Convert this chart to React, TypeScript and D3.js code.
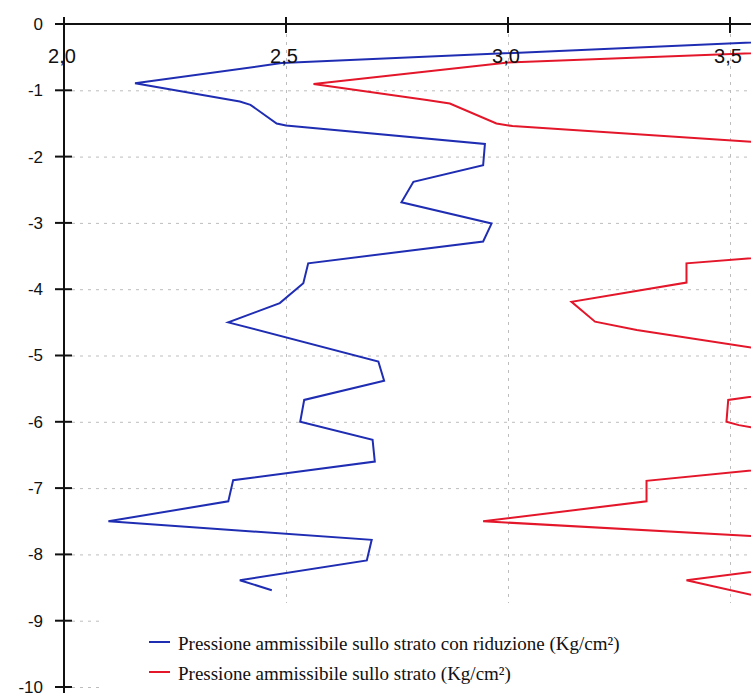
import { useEffect, useRef } from 'react';
import * as d3 from 'd3';

// profondità (m) e pressione (Kg/cm²)
const bluDepth = [-0.2, -0.59, -0.895, -1.17, -1.22, -1.5, -1.53, -1.81, -2.13, -2.38, -2.69, -3.01, -3.28, -3.61, -3.91, -4.21, -4.5, -5.09, -5.38, -5.67, -6.0, -6.27, -6.6, -6.88, -7.2, -7.5, -7.78, -8.09, -8.39, -8.54];
const bluValue = [3.82, 2.49, 2.16, 2.396, 2.42, 2.479, 2.5, 2.948, 2.944, 2.787, 2.76, 2.963, 2.944, 2.55, 2.539, 2.486, 2.37, 2.708, 2.721, 2.541, 2.532, 2.695, 2.7, 2.381, 2.37, 2.1, 2.693, 2.682, 2.396, 2.468];

const redDepth = [-0.2, -0.58, -0.905, -1.146, -1.2, -1.5, -1.54, -1.81, -2.13, -2.38, -2.69, -3.01, -3.29, -3.61, -3.9, -4.19, -4.49, -4.615, -5.09, -5.38, -5.67, -6.0, -6.05, -6.27, -6.6, -6.89, -7.2, -7.5, -7.78, -8.09, -8.39, -8.72];
const redValue = [4.48, 3.0, 2.562, 2.817, 2.869, 2.974, 3.01, 3.62, 3.9, 3.75, 3.7, 3.95, 4.0, 3.402, 3.402, 3.143, 3.196, 3.29, 3.75, 3.8, 3.496, 3.492, 3.52, 3.7, 3.75, 3.312, 3.312, 2.944, 3.7, 3.75, 3.402, 3.62];

const xTicks = [2.0, 2.5, 3.0, 3.5];
const yTicks = [0, -1, -2, -3, -4, -5, -6, -7, -8, -9, -10];

const legendLabels = [
  'Pressione ammissibile sullo strato con riduzione (Kg/cm²)',
  'Pressione ammissibile sullo strato (Kg/cm²)',
];
const colors = ['#1f2db3', '#e3162a'];

const W = 751;
const H = 693;

const App = () => {
  const svgRef = useRef<SVGSVGElement>(null);

  useEffect(() => {
    if (!svgRef.current) return;
    const svg = d3.select(svgRef.current);
    svg.selectAll('*').remove();

    const x = d3.scaleLinear().domain([2.0, 3.5]).range([64, 730]);
    const y = d3.scaleLinear().domain([0, -10]).range([24, 687]);

    svg.append('rect').attr('width', W).attr('height', H).attr('fill', '#fff');

    svg.append('clipPath').attr('id', 'plot')
      .append('rect').attr('x', 64).attr('y', 24).attr('width', W - 64).attr('height', H - 24);

    // griglia tratteggiata
    const grid = svg.append('g').attr('stroke', '#bdbdbd').attr('stroke-width', 1).attr('stroke-dasharray', '3,5');
    grid.selectAll('line.h')
      .data(yTicks.filter(d => d !== 0))
      .enter().append('line')
      .attr('x1', 72).attr('x2', W)
      .attr('y1', d => y(d) + 0.5).attr('y2', d => y(d) + 0.5);
    grid.selectAll('line.v')
      .data(xTicks.filter(d => d !== 2.0))
      .enter().append('line')
      .attr('x1', d => x(d) + 0.5).attr('x2', d => x(d) + 0.5)
      .attr('y1', 34).attr('y2', H);

    // curve
    const series = [
      bluDepth.map((d, i) => [bluValue[i], d] as [number, number]),
      redDepth.map((d, i) => [redValue[i], d] as [number, number]),
    ];
    const line = d3.line<[number, number]>().x(d => x(d[0])).y(d => y(d[1]));
    svg.append('g').attr('clip-path', 'url(#plot)')
      .selectAll('path')
      .data(series)
      .enter().append('path')
      .attr('d', d => line(d))
      .attr('fill', 'none')
      .attr('stroke', (_, i) => colors[i])
      .attr('stroke-width', 2)
      .attr('stroke-linejoin', 'miter');

    // legenda (riquadro bianco che copre la griglia)
    svg.append('rect').attr('x', 102).attr('y', 603).attr('width', W - 102).attr('height', H - 603).attr('fill', '#fff');
    const leg = svg.append('g');
    legendLabels.forEach((lab, i) => {
      const ly = 642 + i * 30;
      leg.append('line')
        .attr('x1', 149).attr('x2', 170).attr('y1', ly).attr('y2', ly)
        .attr('stroke', colors[i]).attr('stroke-width', 2);
      leg.append('text')
        .attr('x', 178).attr('y', ly + 8)
        .style('font-family', '"Liberation Serif", "Times New Roman", serif')
        .style('font-size', '19px')
        .style('fill', '#111')
        .text(lab);
    });

    // assi
    const axes = svg.append('g').attr('stroke', '#111').attr('stroke-width', 2);
    axes.append('line').attr('x1', 55).attr('x2', W).attr('y1', y(0)).attr('y2', y(0));
    axes.append('line').attr('x1', 64).attr('x2', 64).attr('y1', 18).attr('y2', H);
    axes.selectAll('line.yt')
      .data(yTicks)
      .enter().append('line')
      .attr('x1', 55).attr('x2', 72)
      .attr('y1', d => y(d)).attr('y2', d => y(d));
    axes.selectAll('line.xt')
      .data(xTicks)
      .enter().append('line')
      .attr('x1', d => x(d)).attr('x2', d => x(d))
      .attr('y1', 17).attr('y2', 33);

    svg.append('g')
      .selectAll('text')
      .data(yTicks)
      .enter().append('text')
      .attr('x', 43).attr('y', d => y(d))
      .attr('dy', '0.35em')
      .attr('text-anchor', 'end')
      .style('font-family', '"Liberation Sans", Arial, sans-serif')
      .style('font-size', '17px')
      .style('fill', '#111')
      .text(d => String(d));

    svg.append('g')
      .selectAll('text')
      .data(xTicks)
      .enter().append('text')
      .attr('x', d => x(d) - 2).attr('y', 63)
      .attr('text-anchor', 'middle')
      .style('font-family', '"Liberation Sans", Arial, sans-serif')
      .style('font-size', '20px')
      .style('fill', '#111')
      .text(d => d.toFixed(1).replace('.', ','));
  }, []);

  return (
    <div style={{ position: 'absolute', left: 0, top: 0 }}>
      <svg ref={svgRef} width={W} height={H} style={{ display: 'block' }}></svg>
    </div>
  );
};

export default App;
